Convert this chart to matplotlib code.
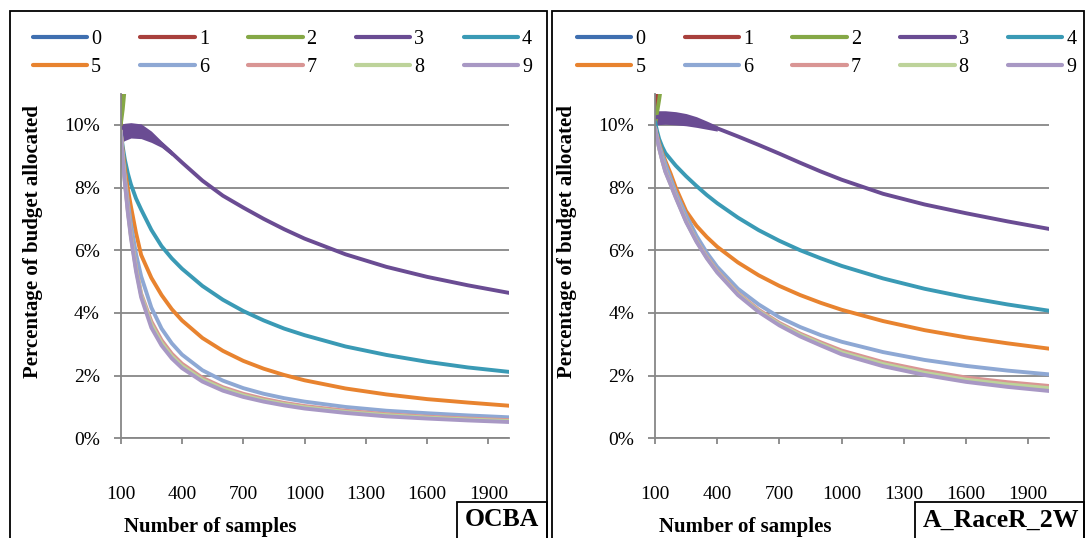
import matplotlib
matplotlib.use('Agg')
import matplotlib.pyplot as plt
from matplotlib.patches import Rectangle
from matplotlib.ticker import FuncFormatter

plt.rcParams['font.family'] = ['Liberation Serif', 'DejaVu Serif']

samples = [100, 110, 120, 135, 150, 175, 200, 250, 300, 350, 400,
           500, 600, 700, 800, 900, 1000, 1200, 1400, 1600, 1800, 2000]

designs = ['0', '1', '2', '3', '4', '5', '6', '7', '8', '9']
colors = ['#3F6FB0', '#A8403C', '#85A846', '#6A4C93', '#3A9AB5',
          '#E8832F', '#8EA8D4', '#D99594', '#BDD39A', '#A898C4']

# OCBA, percent of budget allocated
ocba_0 = [10.0, 16.0, 18.5, 20.0, 21.0, 21.8, 22.3, 23.0, 23.5, 24.0, 24.4,
          25.2, 25.9, 26.5, 27.0, 27.5, 27.9, 28.6, 29.1, 29.5, 29.9, 30.2]
ocba_1 = [10.0, 14.5, 17.5, 19.5, 20.6, 21.5, 22.0, 22.8, 23.4, 23.9, 24.3,
          25.1, 25.8, 26.4, 26.9, 27.4, 27.8, 28.5, 29.0, 29.4, 29.8, 30.1]
ocba_2 = [10.0, 10.5, 11.2, 13.5, 15.5, 18.0, 19.5, 21.0, 22.0, 22.8, 23.4,
          24.5, 25.4, 26.1, 26.7, 27.2, 27.6, 28.3, 28.8, 29.2, 29.6, 29.9]
ocba_3 = [9.55, 9.66, 9.74, 9.8, 9.83, 9.84, 9.8, 9.63, 9.38, 9.1, 8.8,
          8.22, 7.74, 7.36, 7.0, 6.67, 6.37, 5.87, 5.47, 5.15, 4.88, 4.64]
ocba_4 = [9.8, 9.3, 8.9, 8.45, 8.1, 7.65, 7.3, 6.65, 6.13, 5.74, 5.41,
          4.86, 4.42, 4.06, 3.76, 3.5, 3.29, 2.93, 2.66, 2.44, 2.26, 2.12]
ocba_5 = [9.8, 9.15, 8.6, 7.95, 7.4, 6.55, 5.85, 5.12, 4.57, 4.12, 3.76,
          3.2, 2.79, 2.47, 2.22, 2.02, 1.85, 1.59, 1.4, 1.25, 1.14, 1.04]
ocba_6 = [9.8, 9.0, 8.35, 7.55, 6.84, 5.88, 5.17, 4.17, 3.5, 3.03, 2.67,
          2.17, 1.84, 1.6, 1.42, 1.28, 1.17, 1.0, 0.88, 0.8, 0.73, 0.67]
ocba_7 = [9.8, 8.95, 8.25, 7.3, 6.5, 5.45, 4.62, 3.73, 3.13, 2.7, 2.38,
          1.93, 1.63, 1.42, 1.26, 1.13, 1.03, 0.88, 0.77, 0.69, 0.63, 0.58]
ocba_8 = [9.8, 8.93, 8.22, 7.25, 6.45, 5.4, 4.57, 3.63, 3.04, 2.62, 2.31,
          1.87, 1.58, 1.37, 1.21, 1.09, 0.99, 0.84, 0.74, 0.66, 0.6, 0.55]
ocba_9 = [9.8, 8.9, 8.18, 7.2, 6.4, 5.33, 4.5, 3.53, 2.96, 2.55, 2.24,
          1.81, 1.52, 1.32, 1.17, 1.05, 0.95, 0.81, 0.7, 0.63, 0.57, 0.52]
# noisy spread of design 3 at the start of the run
ocba_band_x = [100, 120, 150, 200, 250, 300, 350]
ocba_3_hi = [10.02, 10.05, 10.07, 10.03, 9.8, 9.48, 9.18]
ocba_3_lo = [9.42, 9.5, 9.58, 9.56, 9.44, 9.28, 9.02]

# A_RaceR_2W
race_0 = [10.0, 15.0, 17.0, 18.5, 19.3, 20.0, 20.4, 20.9, 21.3, 21.7, 22.0,
          22.6, 23.1, 23.6, 24.0, 24.4, 24.7, 25.3, 25.7, 26.0, 26.3, 26.6]
race_1 = [10.0, 11.0, 14.0, 16.5, 18.0, 19.2, 19.9, 20.6, 21.1, 21.5, 21.8,
          22.5, 23.0, 23.5, 23.9, 24.3, 24.6, 25.2, 25.6, 25.9, 26.2, 26.5]
race_2 = [10.0, 10.4, 10.8, 11.5, 13.0, 15.5, 17.5, 19.5, 20.5, 21.0, 21.5,
          22.3, 22.9, 23.4, 23.8, 24.2, 24.5, 25.1, 25.5, 25.8, 26.1, 26.4]
race_3 = [10.23, 10.25, 10.26, 10.26, 10.25, 10.23, 10.2, 10.15, 10.08, 9.99, 9.89,
          9.63, 9.36, 9.08, 8.79, 8.51, 8.25, 7.8, 7.46, 7.18, 6.92, 6.68]
race_4 = [10.1, 9.8, 9.55, 9.3, 9.1, 8.9, 8.7, 8.36, 8.05, 7.76, 7.5,
          7.04, 6.64, 6.3, 6.0, 5.74, 5.5, 5.1, 4.77, 4.5, 4.27, 4.07]
race_5 = [9.9, 9.65, 9.4, 9.1, 8.85, 8.45, 8.0, 7.25, 6.78, 6.42, 6.11,
          5.61, 5.2, 4.86, 4.57, 4.32, 4.1, 3.74, 3.45, 3.22, 3.03, 2.86]
race_6 = [9.9, 9.6, 9.35, 9.05, 8.75, 8.3, 7.85, 7.12, 6.46, 5.92, 5.47,
          4.77, 4.27, 3.86, 3.55, 3.29, 3.08, 2.75, 2.5, 2.31, 2.16, 2.04]
race_7 = [9.9, 9.56, 9.27, 8.88, 8.54, 8.13, 7.72, 6.94, 6.31, 5.79, 5.34,
          4.63, 4.1, 3.68, 3.34, 3.06, 2.8, 2.43, 2.16, 1.94, 1.79, 1.67]
race_8 = [9.9, 9.55, 9.26, 8.86, 8.52, 8.11, 7.7, 6.92, 6.29, 5.76, 5.31,
          4.6, 4.06, 3.64, 3.3, 3.01, 2.74, 2.37, 2.09, 1.87, 1.72, 1.6]
race_9 = [9.9, 9.55, 9.25, 8.85, 8.5, 8.1, 7.68, 6.9, 6.27, 5.74, 5.29,
          4.57, 4.03, 3.6, 3.25, 2.96, 2.68, 2.3, 2.02, 1.8, 1.64, 1.51]
race_band_x = [100, 150, 200, 250, 300, 350, 400]
race_3_hi = [10.45, 10.45, 10.42, 10.36, 10.26, 10.12, 9.97]
race_3_lo = [10.0, 10.02, 10.0, 9.97, 9.92, 9.86, 9.8]

ocba = [ocba_0, ocba_1, ocba_2, ocba_3, ocba_4, ocba_5, ocba_6, ocba_7, ocba_8, ocba_9]
race = [race_0, race_1, race_2, race_3, race_4, race_5, race_6, race_7, race_8, race_9]

W, H = 1085, 538
GRAY = '#878787'
fig = plt.figure(figsize=(W / 100, H / 100), dpi=100)

def fx(px):
    return px / W

def fy(py):
    return 1 - py / H

def draw_panel(series, band_x, band_lo, band_hi, x_left, x_right, name,
               box_left, panel_left, panel_right, legend_left):
    # outer frame of the panel
    fig.patches.append(Rectangle((fx(panel_left), fy(H + 5)), fx(panel_right - panel_left),
                                 (H + 5 - 10.5) / H, transform=fig.transFigure,
                                 fill=False, ec='black', lw=1.3))
    ax = fig.add_axes([fx(x_left), fy(438.3), fx(x_right - x_left), (438.3 - 93.5) / H])
    lines = []
    for i, vals in enumerate(series):
        ln, = ax.plot(samples, vals, color=colors[i], lw=2.8, label=designs[i],
                      solid_capstyle='round', solid_joinstyle='round')
        lines.append(ln)
        if i == 3:
            ax.fill_between(band_x, band_lo, band_hi, color=colors[3], lw=0)
    ax.set_xlim(100, 2000)
    ax.set_ylim(0, 11)
    ax.set_xticks(range(100, 2000, 300))
    ax.set_yticks(range(0, 11, 2))
    ax.yaxis.set_major_formatter(FuncFormatter(lambda v, p: f'{v:.0f}%'))
    ax.grid(axis='y', color=GRAY, lw=1.3)
    ax.set_axisbelow(True)
    for s in ['top', 'right']:
        ax.spines[s].set_visible(False)
    for s in ['left', 'bottom']:
        ax.spines[s].set_color(GRAY)
        ax.spines[s].set_linewidth(1.3)
    ax.tick_params(axis='y', length=5, width=1.3, color=GRAY, pad=10, labelsize=14)
    ax.tick_params(axis='x', length=4, width=1.3, color=GRAY, pad=30, labelsize=14)

    # legend, two rows of five
    order = [0, 5, 1, 6, 2, 7, 3, 8, 4, 9]
    leg = fig.legend([lines[k] for k in order], [designs[k] for k in order],
                     loc='upper left', bbox_to_anchor=(fx(legend_left), fy(30)),
                     ncol=5, frameon=False, fontsize=14.5, handlelength=2.7,
                     handletextpad=0.2, columnspacing=1.95, labelspacing=0.42,
                     borderpad=0, borderaxespad=0)
    for h in leg.legend_handles:
        h.set_linewidth(3.0)

    fig.text(fx(x_left - 88), fy(242), 'Percentage of budget allocated', rotation=90,
             ha='center', va='center', fontsize=15, fontweight='bold')
    fig.text(fx(x_left + 90), fy(527), 'Number of samples', ha='center', va='center',
             fontsize=15, fontweight='bold')

    # method name box
    fig.patches.append(Rectangle((fx(box_left), fy(H + 5)), fx(panel_right - box_left),
                                 (H + 5 - 502) / H, transform=fig.transFigure,
                                 fill=False, ec='black', lw=1.3))
    fig.text(fx(box_left + 8), fy(520), name, ha='left', va='center',
             fontsize=18.5, fontweight='bold')
    return ax

draw_panel(ocba, ocba_band_x, ocba_3_lo, ocba_3_hi, 120.7, 508.9, 'OCBA',
           457, 9.7, 547, 32.7)
draw_panel(race, race_band_x, race_3_lo, race_3_hi, 655, 1049, 'A_RaceR_2W',
           915, 552, 1084, 577)

fig.savefig('out.png', dpi=100)
